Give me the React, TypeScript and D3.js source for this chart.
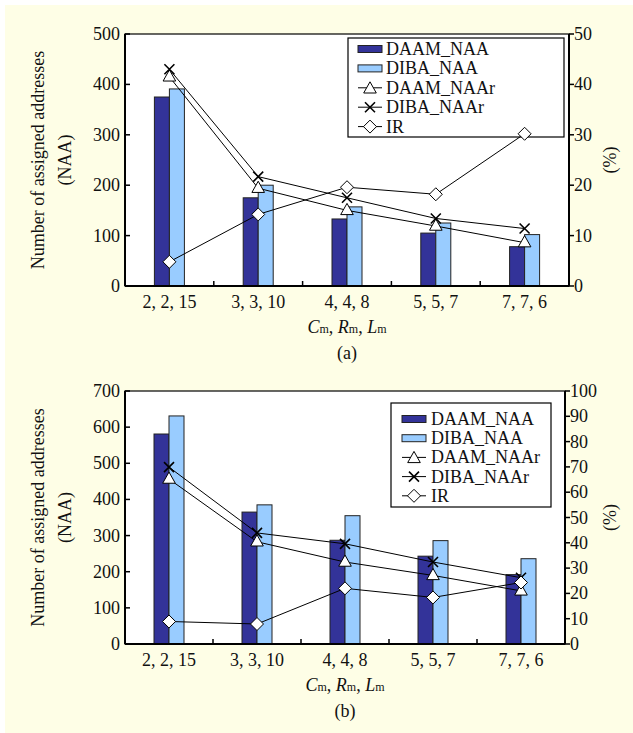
import React from "react";
import * as d3 from "d3";

const categories = ["2, 2, 15", "3, 3, 10", "4, 4, 8", "5, 5, 7", "7, 7, 6"];

// Panel (a)
const daamNaaA = [375, 175, 133, 105, 78];
const dibaNaaA = [391, 200, 157, 125, 102];
const daamNaarA = [41.5, 19.4, 15.0, 11.9, 8.6];
const dibaNaarA = [43.0, 21.7, 17.5, 13.4, 11.4];
const irA = [4.8, 14.2, 19.6, 18.2, 30.2];
const leftTicksA = [0, 100, 200, 300, 400, 500];
const rightTicksA = [0, 10, 20, 30, 40, 50];

// Panel (b)
const daamNaaB = [581, 365, 287, 243, 192];
const dibaNaaB = [631, 385, 355, 286, 236];
const daamNaarB = [65.2, 40.4, 32.4, 27.1, 21.0];
const dibaNaarB = [69.9, 43.9, 39.6, 32.4, 26.2];
const irB = [8.9, 7.9, 22.0, 18.4, 24.3];
const leftTicksB = [0, 100, 200, 300, 400, 500, 600, 700];
const rightTicksB = [0, 10, 20, 30, 40, 50, 60, 70, 80, 90, 100];

const legendLabels = ["DAAM_NAA", "DIBA_NAA", "DAAM_NAAr", "DIBA_NAAr", "IR"];

const FONT = "'Liberation Serif', 'Times New Roman', serif";
const FS = 18;
const DARK = "#333399";
const LIGHT = "#99CCFF";
const BG = "#FEFEE6";

type Box = { l: number; r: number; t: number; b: number };

function Marker({ kind, x, y }: { kind: string; x: number; y: number }) {
  if (kind === "tri") {
    const s = 7;
    return (
      <path
        d={`M${x},${y - s} L${x + s * 0.9},${y + s * 0.6} L${x - s * 0.9},${y + s * 0.6} Z`}
        fill="white"
        stroke="black"
        strokeWidth={1}
      />
    );
  }
  if (kind === "x") {
    const s = 5;
    return (
      <path
        d={`M${x - s},${y - s} L${x + s},${y + s} M${x - s},${y + s} L${x + s},${y - s}`}
        stroke="black"
        strokeWidth={1.6}
        fill="none"
      />
    );
  }
  const s = 6.5;
  return (
    <path
      d={`M${x},${y - s} L${x + s},${y} L${x},${y + s} L${x - s},${y} Z`}
      fill="white"
      stroke="black"
      strokeWidth={1}
    />
  );
}

function Panel({
  box,
  leftMax,
  rightMax,
  leftTicks,
  rightTicks,
  daam,
  diba,
  daamR,
  dibaR,
  ir,
  legend,
  tickBaseline,
  titleBaseline,
  capBaseline,
  caption,
}: {
  box: Box;
  leftMax: number;
  rightMax: number;
  leftTicks: number[];
  rightTicks: number[];
  daam: number[];
  diba: number[];
  daamR: number[];
  dibaR: number[];
  ir: number[];
  legend: { x: number; y: number; w: number; h: number; sx: number; tx: number; row0: number; dy: number };
  tickBaseline: number;
  titleBaseline: number;
  capBaseline: number;
  caption: string;
}) {
  const x = d3.scaleBand<string>().domain(categories).range([box.l, box.r]).padding(0);
  const yL = d3.scaleLinear().domain([0, leftMax]).range([box.b, box.t]);
  const yR = d3.scaleLinear().domain([0, rightMax]).range([box.b, box.t]);
  const bw = 15;
  const cx = (c: string) => (x(c) as number) + x.bandwidth() / 2;
  const line = (vals: number[]) =>
    d3
      .line<number>()
      .x((_, i) => cx(categories[i]))
      .y((v) => yR(v))(vals) as string;
  const midX = (box.l + box.r) / 2;
  const midY = (box.t + box.b) / 2;
  const boundaries = categories.slice(1).map((c) => x(c) as number);

  return (
    <g>
      <rect x={box.l} y={box.t} width={box.r - box.l} height={box.b - box.t} fill="white" />
      {/* bars */}
      {categories.map((c, i) => (
        <g key={c}>
          <rect
            x={cx(c) - bw}
            y={yL(daam[i])}
            width={bw}
            height={box.b - yL(daam[i])}
            fill={DARK}
            stroke="#222"
            strokeWidth={1}
          />
          <rect
            x={cx(c)}
            y={yL(diba[i])}
            width={bw}
            height={box.b - yL(diba[i])}
            fill={LIGHT}
            stroke="#222"
            strokeWidth={1}
          />
        </g>
      ))}
      {/* legend */}
      <rect x={legend.x} y={legend.y} width={legend.w} height={legend.h} fill="white" stroke="black" strokeWidth={1.2} />
      {legendLabels.map((lab, i) => {
        const ry = legend.row0 + i * legend.dy;
        const sx = legend.sx;
        return (
          <g key={lab}>
            {i === 0 && <rect x={sx} y={ry - 3.5} width={24} height={7} fill={DARK} stroke="#222" strokeWidth={1} />}
            {i === 1 && <rect x={sx} y={ry - 3.5} width={24} height={7} fill={LIGHT} stroke="#222" strokeWidth={1} />}
            {i >= 2 && <line x1={sx} x2={sx + 24} y1={ry} y2={ry} stroke="black" strokeWidth={1} />}
            {i === 2 && <Marker kind="tri" x={sx + 12} y={ry + 1} />}
            {i === 3 && <Marker kind="x" x={sx + 12} y={ry} />}
            {i === 4 && <Marker kind="dia" x={sx + 12} y={ry} />}
            <text x={legend.tx} y={ry + 6} fontFamily={FONT} fontSize={FS} fill="#111">
              {lab}
            </text>
          </g>
        );
      })}
      {/* lines */}
      <path d={line(daamR)} fill="none" stroke="black" strokeWidth={1} />
      <path d={line(dibaR)} fill="none" stroke="black" strokeWidth={1} />
      <path d={line(ir)} fill="none" stroke="black" strokeWidth={1} />
      {categories.map((c, i) => (
        <g key={"m" + c}>
          <Marker kind="tri" x={cx(c)} y={yR(daamR[i])} />
          <Marker kind="x" x={cx(c)} y={yR(dibaR[i])} />
          <Marker kind="dia" x={cx(c)} y={yR(ir[i])} />
        </g>
      ))}
      {/* frame */}
      <rect
        x={box.l}
        y={box.t}
        width={box.r - box.l}
        height={box.b - box.t}
        fill="none"
        stroke="black"
        strokeWidth={1.2}
      />
      <line x1={box.l} x2={box.r} y1={box.b} y2={box.b} stroke="black" strokeWidth={2} />
      <line x1={box.l} x2={box.l} y1={box.t} y2={box.b} stroke="black" strokeWidth={2} />
      <line x1={box.r} x2={box.r} y1={box.t} y2={box.b} stroke="black" strokeWidth={2} />
      {/* x ticks (inward) */}
      {boundaries.map((bx) => (
        <line key={bx} x1={bx} x2={bx} y1={box.b} y2={box.b - 5} stroke="black" strokeWidth={1.5} />
      ))}
      {/* left ticks inward */}
      {leftTicks.map((t) => (
        <g key={"l" + t}>
          <line x1={box.l} x2={box.l + 5} y1={yL(t)} y2={yL(t)} stroke="black" strokeWidth={1.5} />
          <text x={box.l - 5} y={yL(t) + 6} textAnchor="end" fontFamily={FONT} fontSize={FS} fill="#111">
            {t}
          </text>
        </g>
      ))}
      {/* right ticks outward */}
      {rightTicks.map((t) => (
        <g key={"r" + t}>
          <line x1={box.r} x2={box.r + 5} y1={yR(t)} y2={yR(t)} stroke="black" strokeWidth={1.5} />
          <text x={box.r + 5} y={yR(t) + 6} textAnchor="start" fontFamily={FONT} fontSize={FS} fill="#111">
            {t}
          </text>
        </g>
      ))}
      {/* category labels */}
      {categories.map((c) => (
        <text key={"t" + c} x={cx(c)} y={tickBaseline} textAnchor="middle" fontFamily={FONT} fontSize={FS} fill="#111">
          {c}
        </text>
      ))}
      {/* axis titles */}
      <text x={midX} y={titleBaseline} textAnchor="middle" fontFamily={FONT} fontSize={FS} fill="#111">
        <tspan fontStyle="italic">C</tspan>
        <tspan fontSize={12}>m</tspan>
        <tspan>, </tspan>
        <tspan fontStyle="italic">R</tspan>
        <tspan fontSize={12}>m</tspan>
        <tspan>, </tspan>
        <tspan fontStyle="italic">L</tspan>
        <tspan fontSize={12}>m</tspan>
      </text>
      <text x={midX} y={capBaseline} textAnchor="middle" fontFamily={FONT} fontSize={FS} fill="#111">
        {caption}
      </text>
      <text
        transform={`translate(44,${midY}) rotate(-90)`}
        textAnchor="middle"
        fontFamily={FONT}
        fontSize={FS}
        fill="#111"
      >
        Number of assigned addresses
      </text>
      <text
        transform={`translate(71,${midY}) rotate(-90)`}
        textAnchor="middle"
        fontFamily={FONT}
        fontSize={FS}
        fill="#111"
      >
        (NAA)
      </text>
      <text
        transform={`translate(616,${midY}) rotate(-90)`}
        textAnchor="middle"
        fontFamily={FONT}
        fontSize={FS}
        fill="#111"
      >
        (%)
      </text>
    </g>
  );
}

export default function App() {
  return (
    <svg width={633} height={733} style={{ position: "absolute", left: 0, top: 0 }}>
      <rect x={0} y={0} width={633} height={733} fill="white" />
      <rect x={5} y={5} width={628} height={728} fill={BG} />
      <Panel
        box={{ l: 125, r: 569, t: 34, b: 286 }}
        leftMax={500}
        rightMax={50}
        leftTicks={leftTicksA}
        rightTicks={rightTicksA}
        daam={daamNaaA}
        diba={dibaNaaA}
        daamR={daamNaarA}
        dibaR={dibaNaarA}
        ir={irA}
        legend={{ x: 348, y: 38, w: 216, h: 99, sx: 358, tx: 386, row0: 49, dy: 19.4 }}
        tickBaseline={308}
        titleBaseline={333}
        capBaseline={359}
        caption="(a)"
      />
      <Panel
        box={{ l: 125, r: 565, t: 391, b: 644 }}
        leftMax={700}
        rightMax={100}
        leftTicks={leftTicksB}
        rightTicks={rightTicksB}
        daam={daamNaaB}
        diba={dibaNaaB}
        daamR={daamNaarB}
        dibaR={dibaNaarB}
        ir={irB}
        legend={{ x: 391, y: 403, w: 160, h: 104, sx: 402, tx: 431, row0: 419, dy: 19.2 }}
        tickBaseline={666}
        titleBaseline={691}
        capBaseline={717}
        caption="(b)"
      />
    </svg>
  );
}
